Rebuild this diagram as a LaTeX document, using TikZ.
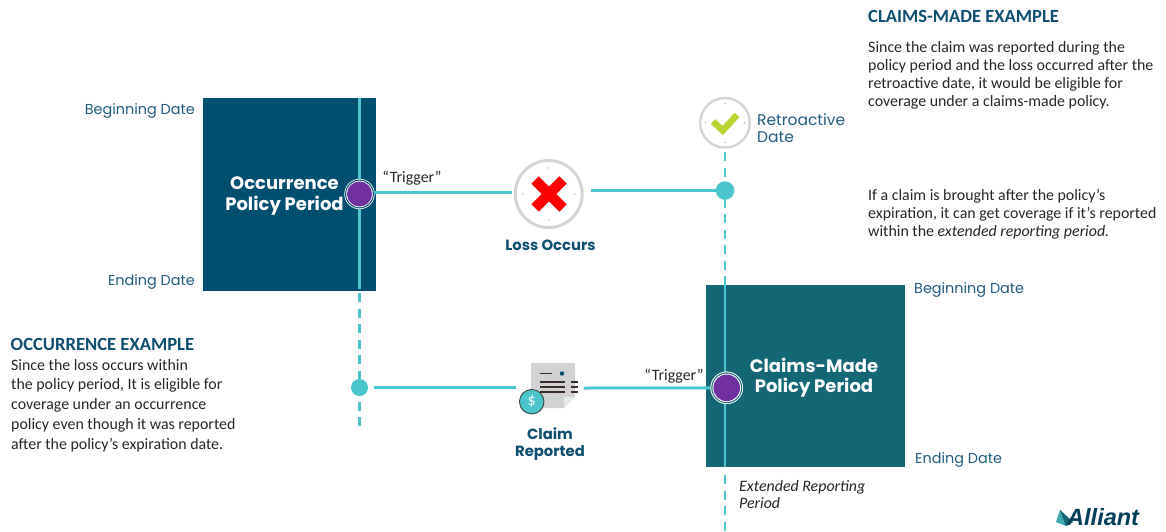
\documentclass[tikz,border=0pt]{standalone}
\usepackage{fontspec}
\setmainfont{Carlito}
\newfontfamily\gothic{Poppins}
\newfontfamily\logofont{Liberation Sans}
\definecolor{navy}{HTML}{004E70}
\definecolor{tealbox}{HTML}{136675}
\definecolor{aqua}{HTML}{4AC5CD}
\definecolor{purp}{HTML}{7030A0}
\definecolor{ringgrey}{HTML}{D4D4D4}
\definecolor{docgrey}{HTML}{D2D2D2}
\definecolor{foldgrey}{HTML}{E4EAEC}
\definecolor{labelblue}{HTML}{1F5C7E}
\definecolor{headblue}{HTML}{0B4F71}
\definecolor{txt}{HTML}{262626}
\definecolor{okgreen}{HTML}{B9D42F}
\definecolor{inkbar}{HTML}{3A2A25}
\tikzset{
  x=1pt,y=-1pt,
  solidline/.style={draw=aqua,line width=2.4pt},
  hline/.style={draw=aqua,line width=3pt},
  dashline/.style={draw=aqua,line width=2.2pt,dash pattern=on 9pt off 6.5pt},
  period/.style={inner sep=0,outer sep=0,anchor=north west},
  datelabel/.style={text=labelblue,font=\gothic\fontsize{14.4}{16}\selectfont,inner sep=0,anchor=west},
  boxtitle/.style={text=white,font=\gothic\bfseries\fontsize{18}{20.5}\selectfont,align=center,inner sep=0},
  steptitle/.style={text=headblue,font=\gothic\bfseries\fontsize{14.8}{17.5}\selectfont,align=center,inner sep=0},
  head/.style={text=headblue,font=\bfseries\fontsize{18.6}{20}\selectfont,inner sep=0,anchor=west},
  para/.style={text=txt,font=\fontsize{15.9}{18}\selectfont,align=left,inner sep=0,anchor=north west},
  trig/.style={text=txt,font=\fontsize{15.9}{17}\selectfont,inner sep=0},
  aquadot/.style={circle,fill=aqua,inner sep=0},
  clockring/.style={circle,draw=ringgrey,fill=white,inner sep=0},
  disc/.style={circle,inner sep=0,draw=none},
}
\begin{document}
\begin{tikzpicture}
\useasboundingbox (0,0) rectangle (1166,531);
% period boxes
\node[period,fill=navy,minimum width=173pt,minimum height=193pt] (occbox) at (203,98) {};
\node[period,fill=tealbox,minimum width=199pt,minimum height=182pt] (cmbox) at (706,285) {};
% coordinates
\coordinate (occtop) at (359.5,98);
\coordinate (occend) at (359.5,289);
\coordinate (occdash) at (359.5,293);
\coordinate (occfoot) at (359.5,428);
\coordinate (retdash) at (725,152);
\coordinate (cmtop) at (725,285);
\coordinate (cmend) at (725,467);
\coordinate (cmdash) at (725,475);
\coordinate (cmfoot) at (725,531);
% hubs
\node[clockring,line width=3pt,minimum size=67pt] (loss) at (548.7,194) {};
\node[clockring,line width=2.4pt,minimum size=49.6pt] (retro) at (725,122.8) {};
% vertical lines
\draw[solidline] (occtop) -- (occend);
\draw[dashline] (occdash) -- (occfoot);
\draw[dashline] (retdash) -- (cmtop);
\draw[solidline] (cmtop) -- (cmend);
\draw[dashline] (cmdash) -- (cmfoot);
\node[aquadot,minimum size=18.5pt] (retdot) at (725,190.5) {};
\node[aquadot,minimum size=17pt] (repdot) at (359.5,387.5) {};
% document icon
\fill[docgrey] (531,363) -- (575,363) -- (575,397) -- (564,408) -- (531,408) -- cycle;
\fill[foldgrey] (564,408) -- (564,397) -- (575,397) -- cycle;
\foreach \yy/\xa/\xb in {373.5/540/551.5, 381.7/540/565, 386.7/540/565, 391.7/540/565}
  \draw[inkbar,line width=1.8pt] (\xa,\yy) -- (\xb,\yy);
\foreach \yy in {381.7,386.7,391.7}
  \draw[inkbar,line width=1.8pt] (571,\yy) -- (578,\yy);
\fill[navy] (562,373.5) circle (2.2);
\node[disc,fill=aqua,draw=black!75,line width=.9pt,minimum size=24.5pt,text=white,font=\fontsize{16}{16}\selectfont] (dollar) at (531.7,401.7) {\$};
% horizontal connectors
\node[disc,fill=white,minimum size=30.4pt] (occtrig) at (359.5,194) {};
\node[disc,fill=white,minimum size=32.4pt] (cmtrig) at (726.7,387.8) {};
\coordinate (occout) at (373.5,192.5);
\coordinate (lossl) at (511.5,192.5);
\coordinate (lossr) at (591,190.5);
\coordinate (repout) at (373.5,387.5);
\coordinate (docl) at (516,387.5);
\coordinate (docr) at (583.5,388);
\draw[hline] (occout) -- (lossl);
\draw[hline] (lossr) -- (retdot);
\draw[hline] (repout) -- (docl);
\draw[hline] (docr) -- (cmtrig);
% purple triggers, ringed
\node[disc,fill=navy,minimum size=28.8pt] at (occtrig) {};
\node[disc,fill=white,minimum size=26.6pt] at (occtrig) {};
\node[disc,fill=purp,minimum size=25pt] at (occtrig) {};
\node[disc,fill=white,minimum size=32.4pt] at (cmtrig) {};
\node[disc,fill=tealbox,minimum size=30.8pt] at (cmtrig) {};
\node[disc,fill=white,minimum size=28.6pt] at (cmtrig) {};
\node[disc,fill=purp,minimum size=26.6pt] at (cmtrig) {};
% clock ticks
\foreach \c/\r in {loss/26,retro/19.5}
  \foreach \a in {0,90,180,270}
    \fill[labelblue!60] (\c) ++(\a:\r) circle (0.7);
% X mark
\draw[red,line width=10.5pt] (535,180) -- (563,208);
\draw[red,line width=10.5pt] (563,180) -- (535,208);
% check mark
\draw[okgreen,line width=6.5pt] (713,121.5) -- (722.7,130.5) -- (737,115);
% box titles
\node[boxtitle] (occtitle) at (284.5,196) {Occurrence\\Policy Period};
\node[boxtitle] (cmtitle) at (814,377.5) {Claims-Made\\Policy Period};
% date labels
\node[datelabel,anchor=east] (occbeg) at (195,111) {Beginning Date};
\node[datelabel,anchor=east] (occfin) at (195,282) {Ending Date};
\node[datelabel] (cmbeg) at (914,290) {Beginning Date};
\node[datelabel] (cmfin) at (915,460) {Ending Date};
\node[datelabel,align=left,font=\gothic\fontsize{15.5}{17.5}\selectfont] (retlabel) at (757,128) {Retroactive\\Date};
% step titles
\node[steptitle] (losstitle) at (550.5,245) {Loss Occurs};
\node[steptitle] (claimtitle) at (550,444) {Claim\\Reported};
% trigger labels
\node[trig] (trig1) at (412,178) {“Trigger”};
\node[trig] (trig2) at (674,376) {“Trigger”};
% text
\node[head] (cmhead) at (868,16) {CLAIMS-MADE EXAMPLE};
\node[para] (cmp1) at (868,41.5) {Since the claim was reported during the\\policy period and the loss occurred after the\\retroactive date, it would be eligible for\\coverage under a claims-made policy.};
\node[para] (cmp2) at (868,189.5) {If a claim is brought after the policy’s\\expiration, it can get coverage if it’s reported\\within the \textit{extended reporting period.}};
\node[head] (occhead) at (10.5,344) {OCCURRENCE EXAMPLE};
\node[para,font=\fontsize{15.9}{19.7}\selectfont] (occp) at (11,359) {Since the loss occurs within\\the policy period, It is eligible for\\coverage under an occurrence\\policy even though it was reported\\after the policy’s expiration date.};
\node[para,font=\itshape\fontsize{15.9}{17.5}\selectfont] (ext) at (739,480) {Extended Reporting\\Period};
% logo
\fill[aqua!85!black] (1056,522) -- (1060,510) -- (1073,522) -- (1066,526) -- cycle;
\fill[tealbox] (1060,510) -- (1073,522) -- (1066,526) -- cycle;
\node[inner sep=0,anchor=west,text=navy!80!black,font=\logofont\bfseries\itshape\fontsize{23.5}{23.5}\selectfont] (logo) at (1067,517) {Alliant};
\end{tikzpicture}
\end{document}
